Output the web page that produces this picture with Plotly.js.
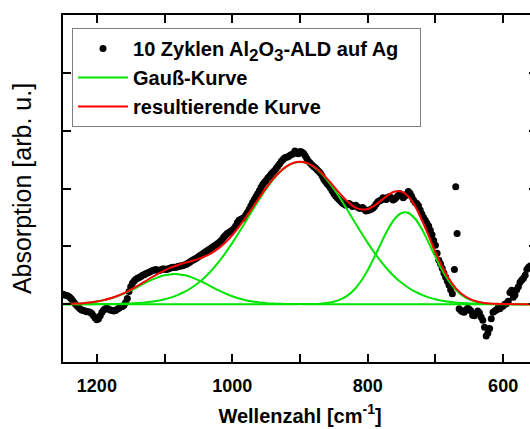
<!DOCTYPE html>
<html>
<head>
<meta charset="utf-8">
<script src="https://cdn.plot.ly/plotly-3.0.1.min.js"></script>
<style>
html, body { margin: 0; padding: 0; overflow: hidden; background: #fff; }
#chart { width: 540px; height: 429px; }
</style>
</head>
<body>
<div id="chart"></div>
<script>
// Measured spectrum (wavenumber in cm^-1, absorption in arb. u.)
const dataWavenumber = [1250,1245,1240,1235,1230,1225,1220,1215,1210,1205,1200,1195,1190,1185,1180,1175,1170,1165,1160,1155,1150,1145,1140,1135,1130,1125,1120,1115,1110,1105,1100,1095,1090,1085,1080,1075,1070,1065,1060,1055,1050,1045,1040,1035,1030,1025,1020,1015,1010,1005,1000,995,990,985,980,975,970,965,960,955,950,945,940,935,930,925,920,915,910,905,900,895,890,885,880,875,870,865,860,855,850,845,840,835,830,825,820,815,810,805,800,795,790,785,780,775,770,765,760,755,750,745,740,735,730,725,720,715,710,705,700,695,690,685,680,675,672,670,668,665,660,655,650,645,640,635,630,625,620,615,610,605,600,595,590,585,580,575,570,565,560];
const dataAbsorption = [0.17,0.15,0.12,0.05,-0.02,-0.08,-0.11,-0.13,-0.14,-0.20,-0.27,-0.20,-0.10,-0.07,-0.10,-0.12,-0.09,-0.05,-0.02,0.10,0.30,0.40,0.45,0.48,0.51,0.54,0.57,0.59,0.58,0.60,0.61,0.61,0.63,0.64,0.65,0.66,0.68,0.71,0.75,0.78,0.82,0.86,0.90,0.94,0.98,1.02,1.06,1.12,1.19,1.24,1.28,1.35,1.45,1.48,1.54,1.64,1.76,1.86,1.96,2.07,2.14,2.21,2.28,2.35,2.43,2.50,2.54,2.57,2.60,2.62,2.64,2.61,2.52,2.44,2.38,2.33,2.27,2.16,2.08,2.01,1.91,1.84,1.78,1.73,1.72,1.72,1.70,1.68,1.66,1.64,1.62,1.64,1.69,1.77,1.80,1.82,1.85,1.83,1.82,1.88,1.89,1.87,1.95,1.86,1.76,1.70,1.56,1.45,1.35,1.20,1.02,0.76,0.62,0.47,0.33,0.18,0.60,2.03,1.22,-0.08,-0.13,-0.10,-0.09,-0.19,-0.16,-0.15,-0.28,-0.55,-0.42,-0.14,-0.10,-0.08,-0.03,0.01,0.20,0.12,0.25,0.38,0.45,0.60,0.66];
// Additional measured points lying between the ones above
const dataWavenumberB = [1247.5,1242.5,1237.5,1232.5,1227.5,1222.5,1217.5,1212.5,1207.5,1202.5,1197.5,1192.5,1187.5,1182.5,1177.5,1172.5,1167.5,1162.5,1157.5,1152.5,1147.5,1142.5,1137.5,1132.5,1127.5,1122.5,1117.5,1112.5,1107.5,1102.5,1097.5,1092.5,1087.5,1082.5,1077.5,1072.5,1067.5,1062.5,1057.5,1052.5,1047.5,1042.5,1037.5,1032.5,1027.5,1022.5,1017.5,1012.5,1007.5,1002.5,997.5,992.5,987.5,982.5,977.5,972.5,967.5,962.5,957.5,952.5,947.5,942.5,937.5,932.5,927.5,922.5,917.5,912.5,907.5,902.5,897.5,892.5,887.5,882.5,877.5,872.5,867.5,862.5,857.5,852.5,847.5,842.5,837.5,832.5,827.5,822.5,817.5,812.5,807.5,802.5,797.5,792.5,787.5,782.5,777.5,772.5,767.5,762.5,757.5,752.5,747.5,742.5,737.5,732.5,727.5,722.5,717.5,712.5,707.5,702.5,697.5,692.5,687.5,682.5,677.5,662.5,657.5,652.5,647.5,642.5,637.5,632.5,627.5,622.5,617.5,612.5,607.5,602.5,597.5,592.5,587.5,582.5,577.5,572.5,567.5,562.5];
const dataAbsorptionB = [0.16,0.14,0.09,0.01,-0.05,-0.10,-0.12,-0.13,-0.16,-0.24,-0.25,-0.14,-0.08,-0.09,-0.11,-0.11,-0.07,-0.04,0.03,0.22,0.36,0.43,0.46,0.50,0.53,0.55,0.58,0.60,0.58,0.61,0.60,0.62,0.64,0.64,0.66,0.67,0.69,0.73,0.77,0.80,0.84,0.88,0.92,0.96,1.00,1.04,1.09,1.16,1.22,1.26,1.31,1.41,1.47,1.50,1.59,1.70,1.81,1.91,2.02,2.11,2.18,2.25,2.31,2.39,2.47,2.53,2.55,2.59,2.65,2.60,2.63,2.57,2.47,2.41,2.36,2.30,2.22,2.12,2.05,1.96,1.87,1.81,1.75,1.71,1.74,1.69,1.71,1.66,1.67,1.61,1.63,1.66,1.73,1.79,1.84,1.81,1.86,1.80,1.85,1.91,1.84,1.90,1.92,1.80,1.74,1.63,1.50,1.40,1.28,1.10,0.88,0.70,0.54,0.40,0.25,-0.11,-0.14,-0.07,-0.12,-0.20,-0.12,-0.22,-0.40,-0.50,-0.25,-0.12,-0.06,-0.05,0.00,0.05,0.24,0.16,0.30,0.42,0.50,0.64];

// Fit curves sampled on a common wavenumber grid
const fitWavenumber = [1250,1240,1230,1220,1210,1200,1190,1180,1170,1160,1150,1140,1130,1120,1110,1100,1090,1080,1070,1060,1050,1040,1030,1020,1010,1000,990,980,970,960,950,940,930,920,910,900,890,880,870,860,850,840,830,820,810,800,790,780,770,760,750,740,730,720,710,700,690,680,670,660,650,640,630,620,610,600,590,580,570,560,550];
const gaussMain = [0,0,0,0,0,0.001,0.002,0.003,0.005,0.008,0.013,0.019,0.028,0.042,0.060,0.084,0.117,0.160,0.215,0.284,0.369,0.471,0.591,0.731,0.887,1.059,1.242,1.434,1.627,1.816,1.992,2.150,2.280,2.379,2.439,2.460,2.439,2.379,2.280,2.150,1.992,1.816,1.627,1.434,1.242,1.059,0.887,0.731,0.591,0.471,0.369,0.284,0.215,0.160,0.117,0.084,0.060,0.042,0.028,0.019,0.013,0.008,0.005,0.003,0.002,0.001,0,0,0,0,0];
const gauss745 = [0,0,0,0,0,0,0,0,0,0,0,0,0,0,0,0,0,0,0,0,0,0,0,0,0,0,0,0,0,0,0,0,0,0,0,0.001,0.002,0.004,0.009,0.021,0.042,0.082,0.148,0.250,0.397,0.588,0.817,1.063,1.295,1.477,1.577,1.577,1.477,1.295,1.063,0.817,0.588,0.397,0.250,0.148,0.082,0.042,0.021,0.009,0.004,0.002,0.001,0,0,0,0];
const gauss1085 = [0.003,0.006,0.011,0.018,0.029,0.045,0.068,0.098,0.137,0.184,0.238,0.297,0.358,0.415,0.463,0.499,0.518,0.518,0.499,0.463,0.415,0.358,0.297,0.238,0.184,0.137,0.098,0.068,0.045,0.029,0.018,0.011,0.006,0.003,0.002,0.001,0,0,0,0,0,0,0,0,0,0,0,0,0,0,0,0,0,0,0,0,0,0,0,0,0,0,0,0,0,0,0,0,0,0,0];
const resultCurve = [0.003,0.006,0.011,0.018,0.029,0.046,0.070,0.101,0.142,0.192,0.251,0.316,0.386,0.457,0.523,0.583,0.635,0.678,0.714,0.747,0.784,0.829,0.888,0.969,1.071,1.196,1.340,1.502,1.672,1.845,2.010,2.161,2.286,2.382,2.441,2.462,2.441,2.383,2.289,2.171,2.034,1.898,1.775,1.684,1.639,1.647,1.704,1.794,1.886,1.948,1.946,1.861,1.692,1.455,1.180,0.901,0.648,0.439,0.278,0.167,0.095,0.050,0.026,0.012,0.006,0.003,0.001,0,0,0,0];

const seriesNames = [
  '10 Zyklen Al<sub><span style="font-size:17px">2</span></sub>O<sub><span style="font-size:17px">3</span></sub>-ALD auf Ag&nbsp;&nbsp;&nbsp;',
  'Gauß-Kurve',
  'resultierende Kurve'
];

const green = '#00e400';
const red = '#ff0000';

const traces = [
  { x: dataWavenumber.concat(dataWavenumberB), y: dataAbsorption.concat(dataAbsorptionB),
    type: 'scatter', mode: 'markers',
    name: seriesNames[0], marker: { color: '#000', size: 7 } },
  { x: fitWavenumber, y: gaussMain, type: 'scatter', mode: 'lines', name: seriesNames[1],
    line: { color: green, width: 2, shape: 'spline' }, legendgroup: 'g' },
  { x: fitWavenumber, y: gauss745, type: 'scatter', mode: 'lines', name: seriesNames[1],
    line: { color: green, width: 2, shape: 'spline' }, legendgroup: 'g', showlegend: false },
  { x: fitWavenumber, y: gauss1085, type: 'scatter', mode: 'lines', name: seriesNames[1],
    line: { color: green, width: 2, shape: 'spline' }, legendgroup: 'g', showlegend: false },
  { x: fitWavenumber, y: resultCurve, type: 'scatter', mode: 'lines', name: seriesNames[2],
    line: { color: red, width: 2, shape: 'spline' } }
];

const font = 'Arial, "Liberation Sans", sans-serif';

const layout = {
  width: 540, height: 429,
  margin: { l: 63, r: 3, t: 15, b: 67 },
  paper_bgcolor: '#fff', plot_bgcolor: '#fff',
  font: { family: font, color: '#000' },
  showlegend: true,
  legend: {
    x: 0.019, y: 0.9625, xanchor: 'left', yanchor: 'top',
    bordercolor: '#7f7f7f', borderwidth: 1, bgcolor: '#fff',
    font: { family: font, size: 20, weight: 'bold', color: '#000' },
    itemwidth: 50, tracegroupgap: 0
  },
  xaxis: {
    range: [1250, 550], autorange: false,
    tick0: 0, dtick: 200,
    ticks: 'inside', ticklen: 8, tickwidth: 2, tickcolor: '#000',
    minor: { dtick: 100, tick0: 0, ticks: 'inside', ticklen: 8, tickwidth: 2, tickcolor: '#000', showgrid: false },
    showline: true, linewidth: 2, linecolor: '#000', mirror: 'ticks',
    showgrid: false, zeroline: false,
    tickfont: { family: font, size: 18, weight: 'bold' },
    ticklabelstandoff: 6,
    title: { text: 'Wellenzahl [cm<sup>-1</sup>]', font: { family: font, size: 20, weight: 'bold' }, standoff: 14 }
  },
  yaxis: {
    range: [-1, 5], autorange: false, dtick: 1, tick0: 0,
    ticks: 'inside', ticklen: 8, tickwidth: 2, tickcolor: '#000',
    showticklabels: false,
    showline: true, linewidth: 2, linecolor: '#000', mirror: 'ticks',
    showgrid: false, zeroline: false,
    title: { text: 'Absorption [arb. u.]', font: { family: font, size: 25 }, standoff: 22 }
  }
};

Plotly.newPlot('chart', traces, layout, { staticPlot: true, displayModeBar: false });
</script>
</body>
</html>
